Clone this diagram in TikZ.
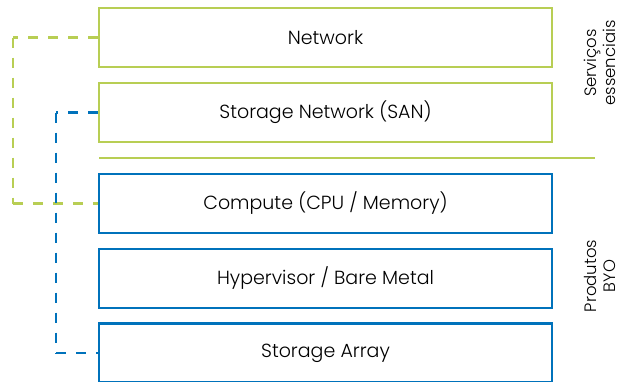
\documentclass[tikz,border=0pt]{standalone}
\usepackage{fontspec}
\setmainfont{Poppins}[UprightFont=* Light]
\definecolor{lime}{RGB}{184,206,84}
\definecolor{ocean}{RGB}{0,114,187}
\begin{document}
\begin{tikzpicture}[x=1pt,y=-1pt,
  layer/.style={draw, line width=2.8pt, minimum width=453pt, minimum height=59pt,
    inner sep=0pt, font=\fontsize{19}{22}\selectfont},
  core/.style={layer, draw=lime},
  byo/.style={layer, draw=ocean},
  link/.style={line width=2.8pt, dash pattern=on 10pt off 10pt},
  side/.style={rotate=90, align=center, font=\fontsize{16.5}{19.5}\selectfont}]
\clip (0,0) rectangle (621,381);
\useasboundingbox (0,0) rectangle (621,381);
\node[core] (net) at (325.5,37.5) {Network};
\node[core] (san) at (325.5,112.5) {Storage Network (SAN)};
\node[byo] (cpu) at (325.5,203.5) {Compute (CPU / Memory)};
\node[byo] (hyp) at (325.5,278.5) {Hypervisor / Bare Metal};
\node[byo] (arr) at (325.5,353) {Storage Array};
\coordinate (sepL) at (99,158);
\coordinate (sepR) at (595,158);
\draw[lime, line width=2.8pt] (sepL) -- (sepR);
\coordinate (gA) at (13,37.5);
\coordinate (gB) at (13,203.5);
\coordinate (bA) at (56,112.5);
\coordinate (bB) at (56,353);
% elbow links, each leg dashed on its own
\draw[link, lime] (net.west) -- (gA);
\draw[link, lime] (gA) -- (gB);
\draw[link, lime] (gB) -- (cpu.west);
\draw[link, ocean] (san.west) -- (bA);
\draw[link, ocean] (bA) -- (bB);
\draw[link, ocean] (bB) -- (arr.west);
\node[side] (svc) at (600,63) {Serviços\\essenciais};
\node[side] (prod) at (600,276) {Produtos\\BYO};
\end{tikzpicture}
\end{document}
